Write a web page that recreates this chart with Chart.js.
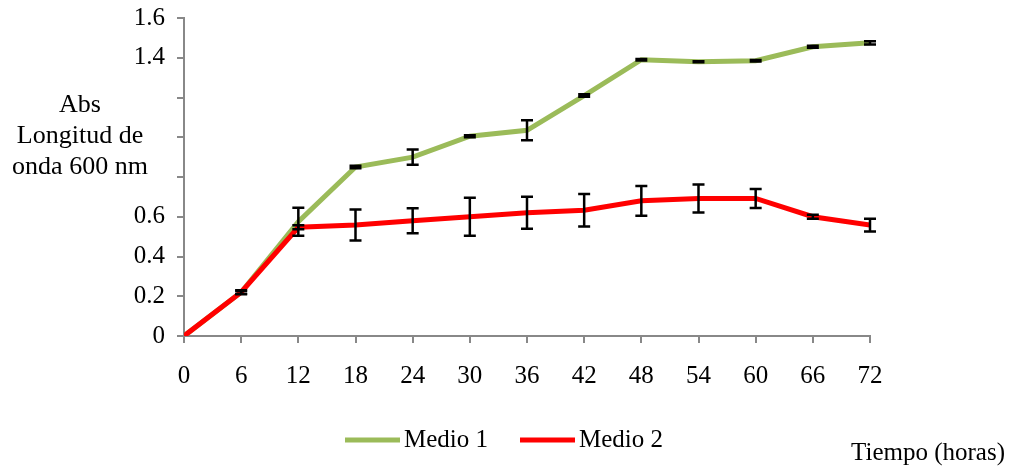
<!DOCTYPE html>
<html>
<head>
<meta charset="utf-8">
<script src="https://cdn.jsdelivr.net/npm/chart.js@4.4.1/dist/chart.umd.min.js"></script>
<style>
  html, body { margin: 0; padding: 0; background: #fff; }
  #wrap { width: 1010px; height: 466px; }
</style>
</head>
<body>
<div id="wrap"><canvas id="c"></canvas></div>
<script>
// time points (hours)
const horas = [0, 6, 12, 18, 24, 30, 36, 42, 48, 54, 60, 66, 72];
// absorbance values
const medio1 = [0, 0.22, 0.575, 0.85, 0.90, 1.005, 1.035, 1.21, 1.39, 1.38, 1.385, 1.455, 1.475];
const medio2 = [0, 0.22, 0.547, 0.558, 0.58, 0.60, 0.62, 0.633, 0.68, 0.692, 0.692, 0.60, 0.558];
// error bar half-heights
const err1 = [0, 0.008, 0.07, 0.006, 0.038, 0.005, 0.05, 0.006, 0.004, 0.003, 0.004, 0.005, 0.008];
const err2 = [0, 0.01, 0.01, 0.078, 0.063, 0.096, 0.081, 0.082, 0.075, 0.07, 0.048, 0.01, 0.032];
const yTicksShown = [0, 0.2, 0.4, 0.6, 1.4, 1.6];

const FONT = '"Liberation Serif", "Times New Roman", serif';
const SIZE = 25;

const toXY = (vals) => vals.map((v, i) => ({ x: horas[i], y: v }));

const errorBars = {
  id: 'errorBars',
  afterDatasetsDraw(chart) {
    const ctx = chart.ctx;
    const xs = chart.scales.x, ys = chart.scales.y;
    ctx.save();
    ctx.strokeStyle = '#000';
    ctx.lineWidth = 2.5;
    chart.data.datasets.forEach(ds => {
      ds.errors.forEach((e, i) => {
        if (!e) return;
        const x = xs.getPixelForValue(horas[i]);
        const v = ds.data[i].y;
        const top = ys.getPixelForValue(v + e);
        const bot = ys.getPixelForValue(v - e);
        ctx.beginPath();
        ctx.moveTo(x, top); ctx.lineTo(x, bot);
        ctx.moveTo(x - 6, top); ctx.lineTo(x + 6, top);
        ctx.moveTo(x - 6, bot); ctx.lineTo(x + 6, bot);
        ctx.stroke();
      });
    });
    ctx.restore();
  }
};

const extraText = {
  id: 'extraText',
  afterDraw(chart) {
    const ctx = chart.ctx;
    ctx.save();
    ctx.fillStyle = '#000';
    ctx.textBaseline = 'middle';
    // y axis title
    ctx.font = '26px ' + FONT;
    ctx.textAlign = 'center';
    ctx.fillText('Abs', 80, 105);
    ctx.fillText('Longitud de', 80, 136);
    ctx.fillText('onda 600 nm', 80, 167);
    // x axis title
    ctx.font = SIZE + 'px ' + FONT;
    ctx.textAlign = 'right';
    ctx.fillText('Tiempo (horas)', 1005, 453);
    // legend
    ctx.textAlign = 'left';
    let lx = 345;
    chart.data.datasets.forEach(ds => {
      ctx.strokeStyle = ds.borderColor;
      ctx.lineWidth = 5;
      ctx.beginPath();
      ctx.moveTo(lx, 440); ctx.lineTo(lx + 55, 440);
      ctx.stroke();
      ctx.fillText(ds.label, lx + 59, 440);
      lx += 175;
    });
    ctx.restore();
  }
};

function draw() {
  new Chart(document.getElementById('c'), {
    type: 'line',
    data: {
      datasets: [
        { label: 'Medio 1', data: toXY(medio1), errors: err1, borderColor: '#9BBB59', borderWidth: 5, pointRadius: 0, tension: 0, fill: false, order: 2 },
        { label: 'Medio 2', data: toXY(medio2), errors: err2, borderColor: '#FF0000', borderWidth: 5, pointRadius: 0, tension: 0, fill: false, order: 1 }
      ]
    },
    options: {
      responsive: true,
      maintainAspectRatio: false,
      animation: false,
      layout: { padding: { left: 124, right: 140, top: 18, bottom: 70 } },
      plugins: { legend: { display: false }, tooltip: { enabled: false } },
      scales: {
        x: {
          type: 'linear', min: 0, max: 72,
          afterFit: s => { s.height = 60; s.paddingLeft = 0; s.paddingRight = 0; },
          afterBuildTicks: s => { s.ticks = horas.map(v => ({ value: v })); },
          ticks: { color: '#000', font: { family: FONT, size: SIZE }, padding: 18, maxRotation: 0 },
          grid: { drawOnChartArea: false, color: '#888', tickLength: 7, lineWidth: 2 },
          border: { color: '#888', width: 2 }
        },
        y: {
          min: 0, max: 1.6,
          afterFit: s => { s.width = 60; s.paddingTop = 0; s.paddingBottom = 0; },
          ticks: {
            stepSize: 0.2, color: '#000', font: { family: FONT, size: SIZE }, padding: 12,
            callback: v => {
              const r = Math.round(v * 10) / 10;
              return yTicksShown.includes(r) ? String(r) : '';
            }
          },
          grid: { drawOnChartArea: false, color: '#888', tickLength: 7, lineWidth: 2 },
          border: { color: '#888', width: 2 }
        }
      }
    },
    plugins: [errorBars, extraText]
  });
}

if (document.fonts && document.fonts.load) {
  document.fonts.load('25px "Liberation Serif"').then(draw, draw);
} else {
  draw();
}
</script>
</body>
</html>
